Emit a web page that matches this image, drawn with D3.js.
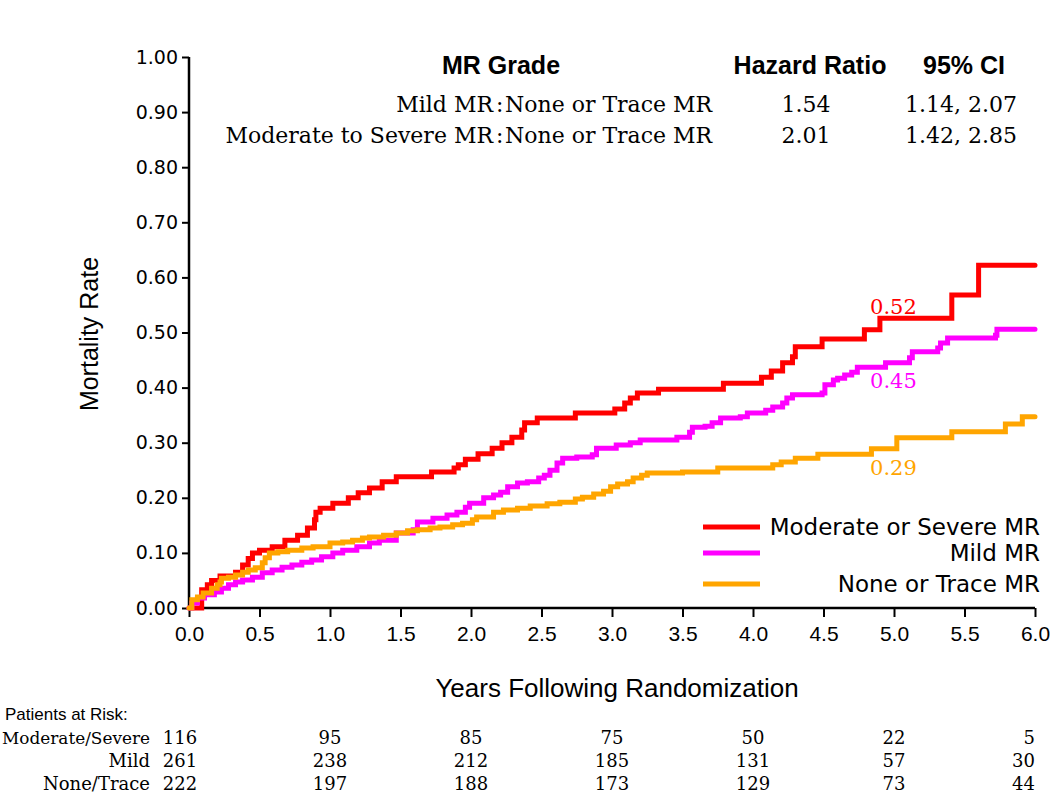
<!DOCTYPE html>
<html><head><meta charset="utf-8">
<script src="https://cdn.jsdelivr.net/npm/d3@7"></script>
<style>body{margin:0;background:#fff}svg{display:block}</style>
</head><body>
<svg id="c" width="1050" height="796"></svg>
<script>
// ---- data ----
const xTicks = [0,0.5,1,1.5,2,2.5,3,3.5,4,4.5,5,5.5,6];
const yTicks = [0,0.1,0.2,0.3,0.4,0.5,0.6,0.7,0.8,0.9,1.0];
const seriesNames = ["Moderate or Severe MR","Mild MR","None or Trace MR"];
const seriesColors = ["#ff0000","#ff00ff","#ffa500"];
const modSevere = [[0,0],[0.09,0.033],[0.13,0.042],[0.16,0.05],[0.22,0.058],[0.33,0.065],[0.38,0.078],[0.42,0.09],[0.45,0.1],[0.5,0.105],[0.59,0.111],[0.68,0.123],[0.77,0.132],[0.84,0.145],[0.89,0.16],[0.9,0.174],[0.93,0.181],[1.02,0.19],[1.13,0.2],[1.2,0.209],[1.28,0.218],[1.37,0.229],[1.47,0.238],[1.72,0.247],[1.88,0.254],[1.91,0.26],[1.96,0.27],[2.05,0.28],[2.15,0.29],[2.22,0.3],[2.29,0.31],[2.36,0.323],[2.38,0.336],[2.47,0.345],[2.74,0.354],[3.02,0.361],[3.09,0.372],[3.13,0.381],[3.18,0.39],[3.33,0.397],[3.79,0.408],[4.06,0.419],[4.13,0.43],[4.21,0.445],[4.28,0.456],[4.3,0.474],[4.49,0.488],[4.79,0.505],[4.9,0.526],[5.41,0.568],[5.6,0.622],[6.0,0.622]];
const mild = [[0,0],[0.02,0.009],[0.06,0.018],[0.11,0.024],[0.18,0.029],[0.23,0.036],[0.28,0.042],[0.33,0.047],[0.38,0.051],[0.45,0.056],[0.52,0.064],[0.59,0.069],[0.66,0.074],[0.73,0.078],[0.8,0.083],[0.87,0.087],[0.94,0.093],[1.02,0.1],[1.09,0.105],[1.19,0.111],[1.28,0.118],[1.35,0.123],[1.47,0.136],[1.59,0.142],[1.62,0.156],[1.73,0.163],[1.83,0.169],[1.9,0.174],[1.96,0.183],[1.99,0.19],[2.09,0.2],[2.16,0.205],[2.21,0.21],[2.26,0.22],[2.33,0.227],[2.4,0.229],[2.48,0.236],[2.52,0.241],[2.56,0.25],[2.61,0.263],[2.65,0.272],[2.75,0.274],[2.86,0.278],[2.89,0.29],[3.03,0.296],[3.13,0.3],[3.2,0.305],[3.46,0.31],[3.55,0.319],[3.57,0.328],[3.66,0.33],[3.71,0.336],[3.77,0.345],[3.91,0.347],[3.96,0.354],[4.09,0.359],[4.14,0.365],[4.21,0.372],[4.24,0.381],[4.28,0.387],[4.49,0.39],[4.51,0.405],[4.57,0.414],[4.6,0.417],[4.65,0.423],[4.7,0.428],[4.74,0.437],[4.94,0.445],[5.11,0.454],[5.13,0.465],[5.31,0.472],[5.33,0.481],[5.38,0.49],[5.72,0.495],[5.73,0.506],[6.0,0.506]];
const noneTrace = [[0,0],[0.02,0.015],[0.06,0.02],[0.1,0.027],[0.16,0.036],[0.2,0.042],[0.22,0.047],[0.23,0.054],[0.28,0.056],[0.33,0.06],[0.38,0.065],[0.42,0.069],[0.47,0.073],[0.52,0.082],[0.54,0.091],[0.57,0.1],[0.63,0.102],[0.7,0.105],[0.8,0.109],[0.88,0.111],[1.0,0.118],[1.09,0.12],[1.16,0.123],[1.23,0.127],[1.28,0.129],[1.38,0.132],[1.47,0.136],[1.55,0.14],[1.62,0.142],[1.71,0.145],[1.78,0.147],[1.87,0.151],[1.94,0.154],[2.01,0.16],[2.04,0.165],[2.16,0.174],[2.23,0.178],[2.33,0.181],[2.42,0.185],[2.54,0.189],[2.63,0.192],[2.74,0.198],[2.79,0.201],[2.87,0.207],[2.94,0.212],[2.99,0.22],[3.04,0.225],[3.11,0.229],[3.15,0.236],[3.21,0.241],[3.25,0.245],[3.5,0.247],[3.75,0.254],[4.14,0.26],[4.2,0.265],[4.3,0.272],[4.46,0.279],[4.84,0.289],[5.02,0.309],[5.41,0.32],[5.79,0.334],[5.91,0.347],[6.0,0.347]];
const fiveYearLabels = ["0.52","0.45","0.29"];
const fiveYearValues = [0.52,0.45,0.29];
const hrHeader = ["MR Grade","Hazard Ratio","95% CI"];
const hrLeft = ["Mild MR","Moderate to Severe MR"];
const hrRight = ["None or Trace MR","None or Trace MR"];
const hrValues = ["1.54","2.01"];
const hrCI = ["1.14, 2.07","1.42, 2.85"];
const riskYears = [0,1,2,3,4,5,6];
const riskGroups = ["Moderate/Severe","Mild","None/Trace"];
const riskCounts = [[116,95,85,75,50,22,5],[261,238,212,185,131,57,30],[222,197,188,173,129,73,44]];

// ---- chart ----
const svg = d3.select("#c");
const x = d3.scaleLinear().domain([0,6]).range([189,1035]);
const y = d3.scaleLinear().domain([0,1]).range([608,57]);

const sans = "'DejaVu Sans', Verdana, sans-serif";
const arial = "'Liberation Sans', Arial, sans-serif";
const serif = "'DejaVu Serif', 'Liberation Serif', serif";
const hb = "'Liberation Sans Narrow', 'Liberation Sans', Arial, sans-serif";

// y axis
const yAxis = svg.append("g").attr("transform","translate(189,0)")
  .call(d3.axisLeft(y).tickValues(yTicks).tickFormat(d3.format(".2f")).tickSize(7).tickPadding(4));
yAxis.select(".domain").attr("stroke","#000").attr("stroke-width",2.5).attr("d","M0,"+y(0)+"V"+y(1));
yAxis.selectAll(".tick line").attr("stroke","#000").attr("stroke-width",2);
yAxis.selectAll(".tick text").attr("font-family",sans).attr("font-size",19).attr("fill","#000");

// x axis
const xAxis = svg.append("g").attr("transform","translate(0,608)")
  .call(d3.axisBottom(x).tickValues(xTicks).tickFormat(d3.format(".1f")).tickSize(9).tickPadding(9));
xAxis.select(".domain").attr("stroke","#000").attr("stroke-width",2.5).attr("d","M"+x(0)+",0H"+x(6));
xAxis.selectAll(".tick line").attr("stroke","#000").attr("stroke-width",2);
xAxis.selectAll(".tick text").attr("font-family",arial).attr("font-size",21).attr("fill","#000");

// axis titles
svg.append("text").attr("x",617).attr("y",697).attr("text-anchor","middle")
  .attr("font-family",arial).attr("font-size",26).text("Years Following Randomization");
svg.append("text").attr("transform","translate(98,334) rotate(-90)").attr("text-anchor","middle")
  .attr("font-family",arial).attr("font-size",25).text("Mortality Rate");

// curves
const line = d3.line().x(d=>x(d[0])).y(d=>y(d[1])).curve(d3.curveStepAfter);
const allSeries = [modSevere, mild, noneTrace];
svg.append("g").selectAll("path").data(allSeries).join("path")
  .attr("d",line).attr("fill","none")
  .attr("stroke",(d,i)=>seriesColors[i]).attr("stroke-width",5)
  .attr("stroke-linejoin","miter").attr("stroke-linecap","round");

// 5-year labels
const labelOffsets = [-7, 28, 27];
svg.append("g").selectAll("text").data(fiveYearLabels).join("text")
  .attr("x",x(4.83)).attr("y",(d,i)=>y(fiveYearValues[i])+labelOffsets[i])
  .attr("font-family",serif).attr("font-size",21).attr("fill",(d,i)=>seriesColors[i]).text(d=>d);

// legend
const lg = svg.append("g");
seriesNames.forEach((n,i)=>{
  const ly = [527,553,584][i];
  lg.append("line").attr("x1",703).attr("x2",760).attr("y1",ly).attr("y2",ly)
    .attr("stroke",seriesColors[i]).attr("stroke-width",5);
  lg.append("text").attr("x",1040).attr("y",ly+8).attr("text-anchor","end")
    .attr("font-family",sans).attr("font-size",23).text(n);
});

// hazard ratio table
[[501,hrHeader[0]],[810,hrHeader[1]],[964,hrHeader[2]]].forEach(([hx,t])=>{
  svg.append("text").attr("x",hx).attr("y",74).attr("text-anchor","middle")
    .attr("font-family",hb).attr("font-weight","bold").attr("font-size",25).text(t);
});
hrLeft.forEach((t,i)=>{
  const ty = [112,143][i];
  svg.append("text").attr("x",493).attr("y",ty).attr("text-anchor","end")
    .attr("font-family",serif).attr("font-size",22).text(t);
  svg.append("text").attr("x",496).attr("y",ty).attr("font-family",serif).attr("font-size",22).text(":");
  svg.append("text").attr("x",505).attr("y",ty).attr("font-family",serif).attr("font-size",22).text(hrRight[i]);
  svg.append("text").attr("x",806).attr("y",ty).attr("text-anchor","middle")
    .attr("font-family",serif).attr("font-size",22).text(hrValues[i]);
  svg.append("text").attr("x",1017).attr("y",ty).attr("text-anchor","end")
    .attr("font-family",serif).attr("font-size",22).text(hrCI[i]);
});

// patients at risk
svg.append("text").attr("x",5).attr("y",720).attr("font-family",hb).attr("font-size",17).text("Patients at Risk:");
riskGroups.forEach((g,i)=>{
  const ty = 744 + i*23;
  const lab = svg.append("text").attr("x",150).attr("y",ty).attr("text-anchor","end")
    .attr("font-family",serif).attr("font-size",18).text(g);
  if (i===0) lab.attr("font-size",17).attr("textLength",148).attr("lengthAdjust","spacingAndGlyphs");
  riskCounts[i].forEach((c,j)=>{
    const cx = j===0 ? 180 : x(riskYears[j]);
    svg.append("text").attr("x",cx).attr("y",ty).attr("text-anchor",j===6?"end":"middle")
      .attr("font-family",serif).attr("font-size",18).text(c);
  });
});
</script>
</body></html>
